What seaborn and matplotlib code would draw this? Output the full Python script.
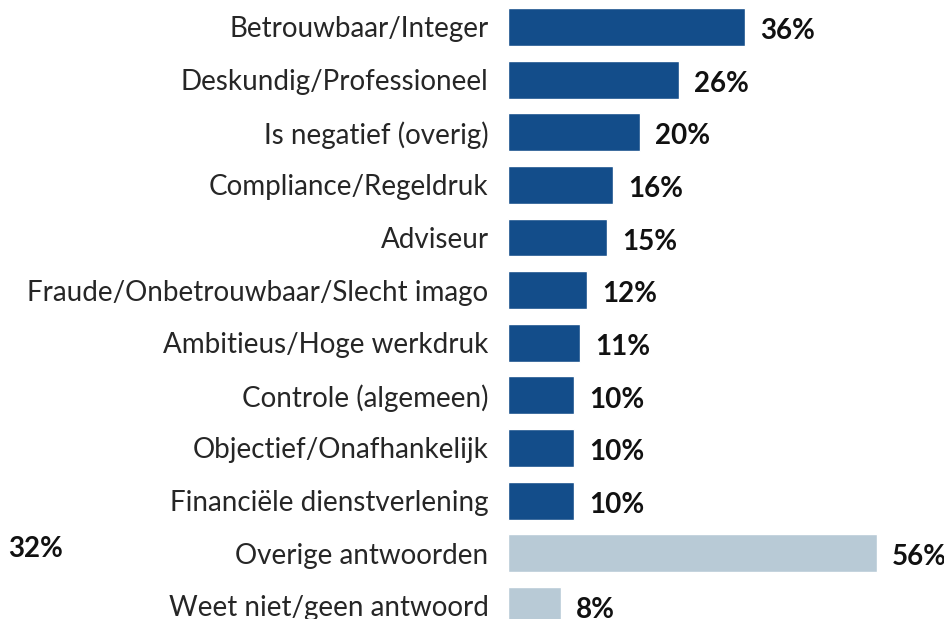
import pandas as pd
import seaborn as sns
import matplotlib.pyplot as plt
import matplotlib.transforms as mtransforms

# data
categories = [
    'Betrouwbaar/Integer', 'Deskundig/Professioneel', 'Is negatief (overig)',
    'Compliance/Regeldruk', 'Adviseur', 'Fraude/Onbetrouwbaar/Slecht imago',
    'Ambitieus/Hoge werkdruk', 'Controle (algemeen)', 'Objectief/Onafhankelijk',
    'Financiële dienstverlening', 'Overige antwoorden', 'Weet niet/geen antwoord',
]
values = [36, 26, 20, 16, 15, 12, 11, 10, 10, 10, 56, 8]
groups = ['main'] * 10 + ['rest'] * 2
stray_label = '32%'
stray_row = 'Overige antwoorden'

sns.set_theme(style='white')
plt.rcParams['font.family'] = ['Lato', 'DejaVu Sans']

df = pd.DataFrame({'category': categories, 'value': values, 'group': groups})

fig = plt.figure(figsize=(9.45, 6.19), dpi=100)
ax = fig.add_axes([508 / 945, 0, 1 - 508 / 945, 1])

sns.barplot(data=df, y='category', x='value', hue='group', orient='h',
            palette={'main': '#134d8a', 'rest': '#b8cad6'}, saturation=1,
            dodge=False, width=0.72, legend=False, ax=ax)

ax.set_xlim(0, 66.4)
ax.set_ylim(11.25, -0.513)
ax.set_xlabel('')
ax.set_ylabel('')
ax.set_xticks([])
ax.tick_params(axis='y', length=0, pad=14, labelsize=20, labelcolor='#262626')
sns.despine(ax=ax, left=True, bottom=True, top=True, right=True)

for i, v in enumerate(values):
    ax.text(v + 2.3, i + 0.08, f'{v}%', va='center', ha='left',
            fontsize=20, fontweight='bold', color='#111111')

trans = mtransforms.blended_transform_factory(fig.transFigure, ax.transData)
ax.text(8 / 945, categories.index(stray_row) - 0.08, stray_label, transform=trans,
        va='center', ha='left', fontsize=20, fontweight='bold', color='#111111')

fig.savefig('out.png', dpi=100)
